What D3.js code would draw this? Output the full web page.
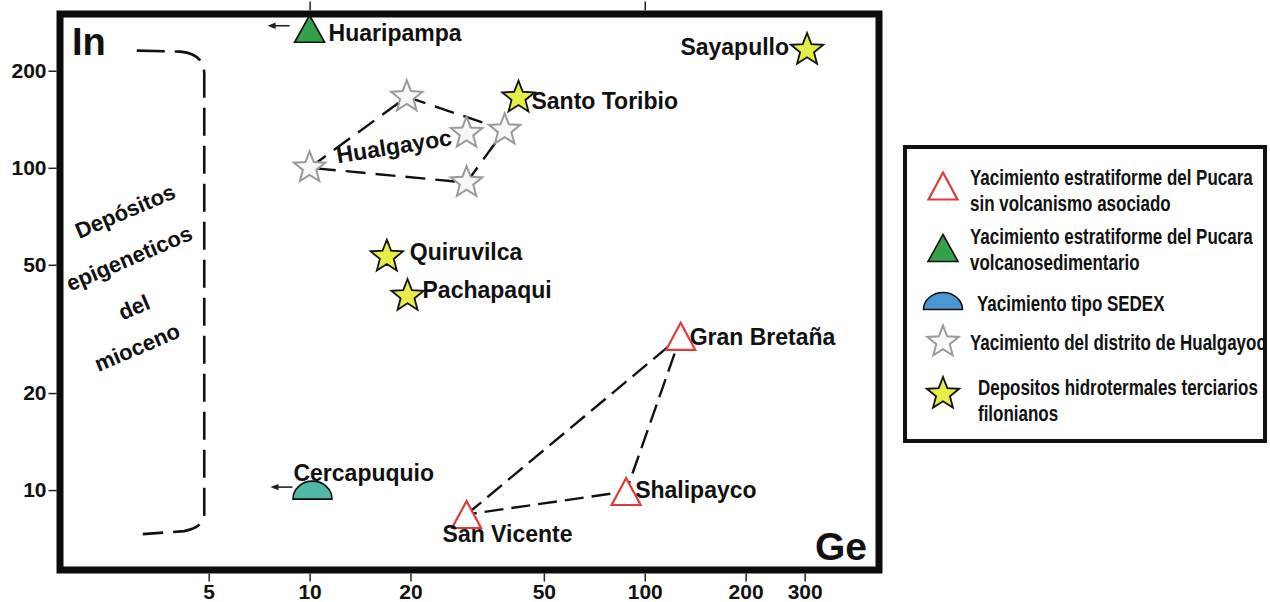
<!DOCTYPE html>
<html>
<head>
<meta charset="utf-8">
<script src="https://cdn.jsdelivr.net/npm/d3@7"></script>
<style>
  body { margin: 0; background: #fff; }
  svg { display: block; }
</style>
</head>
<body>
<script>
// Ge vs In (ppm), log-log diagram

// axis ticks
const xTicks = [5, 10, 20, 50, 100, 200, 300];
const yTicks = [10, 20, 50, 100, 200];
const topTicks = [10, 100];

// named deposits
const names = ["Huaripampa", "Sayapullo", "Santo Toribio", "Quiruvilca", "Pachapaqui",
               "Cercapuquio", "Gran Bretaña", "Shalipayco", "San Vicente"];
const geValues = [10, 305, 42, 17, 19.6, 10.2, 128, 88, 29.4];
const inValues = [270, 232, 165, 53, 40, 10, 30, 9.9, 8.4];
const types = ["volc", "hidro", "hidro", "hidro", "hidro", "sedex", "pucara", "pucara", "pucara"];
const belowLimit = ["Huaripampa", "Cercapuquio"]; // drawn with a "<" arrow

// Hualgayoc district (first four form the dashed outline)
const hualgayocGe = [10, 19.5, 38.2, 29.4, 29.4];
const hualgayocIn = [100, 166, 131, 90, 128];

// Pucara triangle
const pucaraOutline = ["San Vicente", "Gran Bretaña", "Shalipayco"];

// bracket "Depósitos epigeneticos del mioceno"
const bracketGe = [3.05, 4.85];
const bracketIn = [7.3, 231];
const bracketText = ["Depósitos", "epigeneticos", "del", "mioceno"];

// legend
const legendTypes = ["pucara", "volc", "sedexLegend", "hualgayoc", "hidro"];
const legendLines = [
  ["Yacimiento estratiforme del Pucara", "sin volcanismo asociado"],
  ["Yacimiento estratiforme del Pucara", "volcanosedimentario"],
  ["Yacimiento tipo SEDEX"],
  ["Yacimiento del distrito de Hualgayoc"],
  ["Depositos hidrotermales terciarios", "filonianos"]
];

// ---------- layout ----------
const W = 1270, H = 602;
const frame = {x0: 60, x1: 879, y0: 14, y1: 570};
const font = "'Liberation Sans', Arial, sans-serif";

const labelPos = {
  "Huaripampa":   {dx: 19, dy: 4, anchor: "start"},
  "Sayapullo":    {dx: -18, dy: -3, anchor: "end"},
  "Santo Toribio":{dx: 13, dy: 3, anchor: "start"},
  "Quiruvilca":   {dx: 23, dy: -5, anchor: "start"},
  "Pachapaqui":   {dx: 15, dy: -6, anchor: "start"},
  "Cercapuquio":  {dx: -19, dy: -17, anchor: "start"},
  "Gran Bretaña": {dx: 9, dy: 0, anchor: "start"},
  "Shalipayco":   {dx: 9, dy: -2, anchor: "start"},
  "San Vicente":  {dx: -24, dy: 19, anchor: "start"}
};

const colors = {
  red: "#e03a3a",
  green: "#35a04a",
  teal: "#52b7a4",
  blue: "#4a97d3",
  yellow: "#e6ec48",
  gray: "#9a9a9a"
};

const x = d3.scaleLog().domain([1.8, 500]).range([frame.x0, frame.x1]);
const y = d3.scaleLog().domain([5.65, 300]).range([frame.y1, frame.y0]);

const svg = d3.select("body").append("svg")
  .attr("width", W)
  .attr("height", H)
  .attr("font-family", font)
  .attr("font-weight", "bold");

svg.append("rect").attr("width", W).attr("height", H).attr("fill", "#fff");

// ---------- shapes ----------
function starPath(R) {
  const r = R * 0.43;
  const p = d3.path();
  for (let i = 0; i < 10; i++) {
    const a = -Math.PI / 2 + i * Math.PI / 5;
    const rr = i % 2 ? r : R;
    if (i === 0) p.moveTo(rr * Math.cos(a), rr * Math.sin(a));
    else p.lineTo(rr * Math.cos(a), rr * Math.sin(a));
  }
  p.closePath();
  return p.toString();
}
function triPath(w, h) {
  return `M0,${-h / 2}L${w / 2},${h / 2}L${-w / 2},${h / 2}Z`;
}
function domePath(rw, h) {
  // flat base at +h/2
  return `M${-rw},${h / 2}A${rw},${h} 0 0 1 ${rw},${h / 2}Z`;
}

function drawMarker(g, type) {
  if (type === "pucara") {
    g.append("path").attr("d", triPath(29, 27))
      .attr("fill", "#fff").attr("stroke", colors.red).attr("stroke-width", 2.2);
  } else if (type === "volc") {
    g.append("path").attr("d", triPath(30, 27))
      .attr("fill", colors.green).attr("stroke", "#111").attr("stroke-width", 1.6);
  } else if (type === "sedex") {
    g.append("path").attr("d", domePath(19.5, 18))
      .attr("fill", colors.teal).attr("stroke", "#111").attr("stroke-width", 1.6);
  } else if (type === "sedexLegend") {
    g.append("path").attr("d", domePath(19.5, 17))
      .attr("fill", colors.blue).attr("stroke", "#111").attr("stroke-width", 1.6);
  } else if (type === "hualgayoc") {
    g.append("path").attr("d", starPath(16.5))
      .attr("fill", "#f7f7f7").attr("stroke", colors.gray).attr("stroke-width", 2);
  } else if (type === "hidro") {
    g.append("path").attr("d", starPath(17))
      .attr("fill", colors.yellow).attr("stroke", "#111").attr("stroke-width", 1.8);
  }
}

// ---------- axes ----------
const axisFont = g => g.selectAll("text")
  .attr("font-family", font).attr("font-weight", "bold")
  .attr("font-size", 21).attr("fill", "#111");

svg.append("g")
  .attr("transform", `translate(${frame.x0 - 3.5},0)`)
  .call(d3.axisLeft(y).tickValues(yTicks).tickFormat(d3.format("d")).tickSize(8).tickPadding(2))
  .call(g => g.select(".domain").remove())
  .call(g => g.selectAll("line").attr("stroke", "#222").attr("stroke-width", 1.5))
  .call(axisFont);

svg.append("g")
  .attr("transform", `translate(0,${frame.y1 + 3.5})`)
  .call(d3.axisBottom(x).tickValues(xTicks).tickFormat(d3.format("d")).tickSize(8).tickPadding(3))
  .call(g => g.select(".domain").remove())
  .call(g => g.selectAll("line").attr("stroke", "#222").attr("stroke-width", 1.5))
  .call(axisFont);

svg.append("g")
  .attr("transform", `translate(0,${frame.y0 - 3.5})`)
  .call(d3.axisTop(x).tickValues(topTicks).tickFormat("").tickSize(9))
  .call(g => g.select(".domain").remove())
  .call(g => g.selectAll("line").attr("stroke", "#222").attr("stroke-width", 1.5));

// frame
svg.append("rect")
  .attr("x", frame.x0).attr("y", frame.y0)
  .attr("width", frame.x1 - frame.x0).attr("height", frame.y1 - frame.y0)
  .attr("fill", "none").attr("stroke", "#0c0c0c").attr("stroke-width", 7);

// axis names
svg.append("text").attr("x", 72).attr("y", 55)
  .attr("font-size", 38).attr("fill", "#111").text("In");
svg.append("text").attr("x", 867).attr("y", 560).attr("text-anchor", "end")
  .attr("font-size", 39).attr("fill", "#111").text("Ge");

// ---------- bracket ----------
{
  const xa = x(bracketGe[0]), xb = x(bracketGe[1]);
  const yt = y(bracketIn[1]), yb = y(bracketIn[0]);
  const p = d3.path();
  p.moveTo(xa, yt);
  p.lineTo(xb - 24, yt + 1);
  p.quadraticCurveTo(xb, yt + 3, xb, yt + 24);
  p.lineTo(xb, yb - 20);
  p.quadraticCurveTo(xb, yb - 7, xb - 20, yb - 3);
  p.lineTo(xa + 6, yb);
  svg.append("path").attr("d", p.toString())
    .attr("fill", "none").attr("stroke", "#111").attr("stroke-width", 2.6)
    .attr("stroke-dasharray", "28 10");

  const centers = [[125, 211], [129, 258], [134, 307], [137, 347]];
  svg.append("g").selectAll("text")
    .data(bracketText)
    .join("text")
    .attr("transform", (d, i) => `translate(${centers[i][0]},${centers[i][1]}) rotate(-23)`)
    .attr("text-anchor", "middle")
    .attr("dy", "0.36em")
    .attr("font-size", 22)
    .attr("fill", "#111")
    .text(d => d);
}

// ---------- data ----------
const deposits = names.map((n, i) => ({name: n, ge: geValues[i], inn: inValues[i], type: types[i]}));
const byName = Object.fromEntries(deposits.map(d => [d.name, d]));
const hual = hualgayocGe.map((g, i) => ({ge: g, inn: hualgayocIn[i]}));

const line = d3.line().x(d => x(d.ge)).y(d => y(d.inn)).curve(d3.curveLinearClosed);

// dashed outlines
svg.append("path").attr("d", line(hual.slice(0, 4)))
  .attr("fill", "none").attr("stroke", "#111").attr("stroke-width", 2.4)
  .attr("stroke-dasharray", "20 10");

svg.append("path").attr("d", line(pucaraOutline.map(n => byName[n])))
  .attr("fill", "none").attr("stroke", "#111").attr("stroke-width", 2.4)
  .attr("stroke-dasharray", "19 8");

// arrows for values below detection (pointing left)
const arrows = svg.append("g").selectAll("g")
  .data(deposits.filter(d => belowLimit.includes(d.name)))
  .join("g")
  .attr("transform", d => `translate(${x(d.ge)},${y(d.inn) - 3})`);
arrows.append("line")
  .attr("x1", -20).attr("x2", -36)
  .attr("stroke", "#222").attr("stroke-width", 1.6);
arrows.append("path")
  .attr("d", "M-42,0L-34,-3.2L-34,3.2Z")
  .attr("fill", "#222");

// Hualgayoc stars
svg.append("g").selectAll("g")
  .data(hual)
  .join("g")
  .attr("transform", d => `translate(${x(d.ge)},${y(d.inn)})`)
  .each(function () { drawMarker(d3.select(this), "hualgayoc"); });

svg.append("text")
  .attr("transform", `translate(394,146) rotate(-9)`)
  .attr("text-anchor", "middle").attr("dy", "0.36em")
  .attr("font-size", 23).attr("fill", "#111")
  .text("Hualgayoc");

// named deposits
svg.append("g").selectAll("g")
  .data(deposits)
  .join("g")
  .attr("transform", d => `translate(${x(d.ge)},${y(d.inn)})`)
  .each(function (d) { drawMarker(d3.select(this), d.type); });

svg.append("g").selectAll("text")
  .data(deposits)
  .join("text")
  .attr("x", d => x(d.ge) + labelPos[d.name].dx)
  .attr("y", d => y(d.inn) + labelPos[d.name].dy)
  .attr("dy", "0.36em")
  .attr("text-anchor", d => labelPos[d.name].anchor)
  .attr("font-size", 23)
  .attr("fill", "#111")
  .text(d => d.name);

// ---------- legend ----------
const legend = svg.append("g");
legend.append("rect")
  .attr("x", 905).attr("y", 147).attr("width", 360).attr("height", 294)
  .attr("fill", "#fff").attr("stroke", "#111").attr("stroke-width", 4);

const legendMarkerY = [186, 248, 301, 342, 394];
const legendTextY = [177, 236, 303, 342, 387];
const legendTextX = [970, 970, 977, 970, 978];
const legendRefWidth = 283; // width of the first legend line (condensed face)

const legendTexts = [];
legendTypes.forEach((t, i) => {
  const g = legend.append("g").attr("transform", `translate(943,${legendMarkerY[i]})`);
  drawMarker(g, t);
  legendLines[i].forEach((s, j) => {
    const tx = legend.append("g")
      .attr("transform", `translate(${legendTextX[i]},${legendTextY[i] + j * 26})`)
      .append("text")
      .attr("dy", "0.36em")
      .attr("font-size", 22)
      .attr("fill", "#111")
      .text(s);
    legendTexts.push(tx);
  });
});
// condense the legend face horizontally
const squeeze = legendRefWidth / legendTexts[0].node().getComputedTextLength();
legendTexts.forEach(t => t.attr("transform", `scale(${squeeze},1)`));
</script>
</body>
</html>
